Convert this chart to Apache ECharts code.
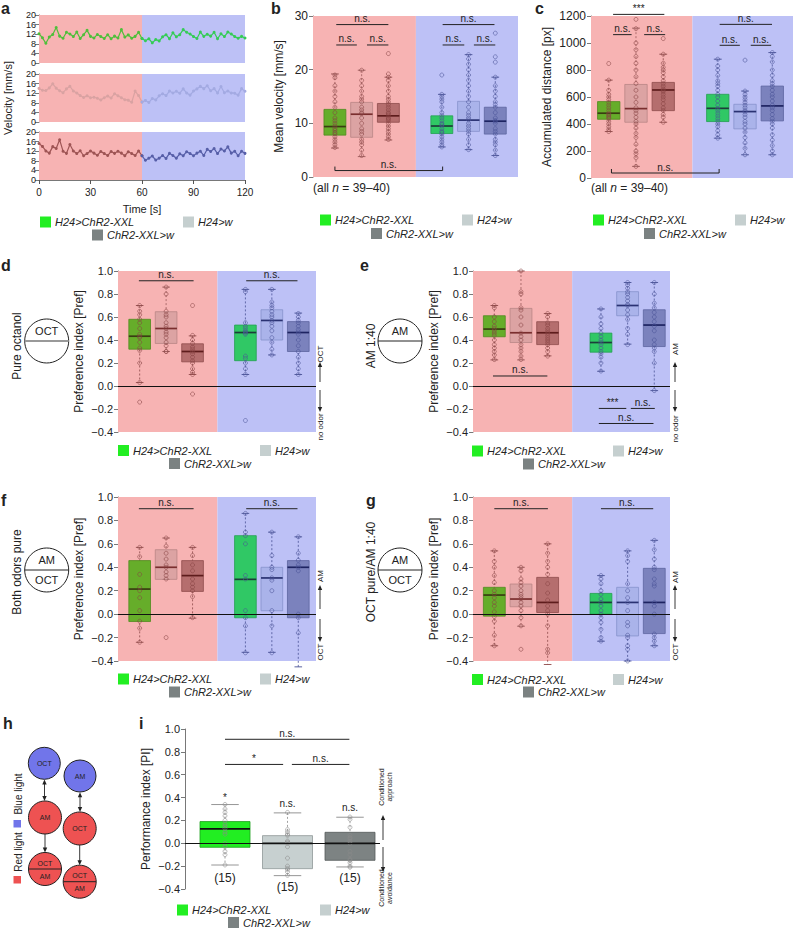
<!DOCTYPE html>
<html>
<head>
<meta charset="utf-8">
<script src="https://cdn.jsdelivr.net/npm/echarts@6/dist/echarts.min.js"></script>
<style>
html, body { margin: 0; padding: 0; background: #fff; }
#main { width: 794px; height: 928px; }
</style>
</head>
<body>
<div id="main"></div>
<script>
// panel a: mean velocity over time, one value every 2 s (0..120 s)
var timeStep = 2;
var timeTicks = [0, 30, 60, 90, 120];
var velH24ChR2 = [
    12.2, 10.5, 8.2, 10.8, 11.9, 14.8, 11.2, 10.3, 12.8, 12.1,
    11.0, 12.9, 10.2, 11.8, 13.6, 11.1, 10.4, 11.9, 11.0, 10.2,
    11.8, 10.1, 11.2, 10.4, 13.9, 10.8, 11.7, 10.3, 11.1, 12.8,
    10.2, 9.3, 10.1, 8.4, 9.8, 9.2, 10.9, 11.8, 10.1, 12.6,
    10.9, 11.8, 13.9, 12.8, 12.1, 11.0, 10.2, 12.9, 11.1, 12.0,
    11.2, 12.8, 10.1, 12.2, 11.0, 12.9, 12.1, 11.0, 10.3, 11.1,
    10.4
];
var velH24w = [
    14.0, 13.2, 13.1, 14.2, 15.9, 14.1, 13.0, 12.2, 13.8, 14.9,
    12.9, 12.1, 11.0, 10.2, 10.9, 10.1, 10.3, 9.9, 9.2, 10.1,
    10.8, 10.0, 11.8, 10.9, 10.1, 9.3, 9.1, 8.2, 12.9, 11.0,
    8.3, 9.0, 8.1, 9.8, 9.2, 10.9, 11.8, 11.0, 12.9, 12.1,
    12.8, 12.0, 13.8, 12.1, 11.2, 12.9, 13.8, 14.9, 13.9, 15.1,
    13.0, 13.9, 12.1, 14.8, 12.2, 12.9, 12.1, 12.0, 11.2, 13.9,
    12.8
];
var velChR2w = [
    15.2, 14.0, 12.1, 11.2, 13.9, 13.1, 16.8, 12.0, 11.1, 14.8,
    12.1, 11.0, 12.2, 10.1, 11.0, 12.1, 11.2, 10.3, 11.9, 11.0,
    10.2, 11.9, 11.1, 12.0, 11.2, 10.1, 11.8, 11.0, 10.2, 12.1,
    10.1, 8.2, 9.1, 10.0, 8.3, 9.1, 10.2, 9.0, 11.1, 10.2,
    9.1, 10.9, 10.1, 11.8, 11.0, 10.1, 11.2, 12.0, 10.2, 12.8,
    11.9, 13.1, 11.0, 12.9, 12.1, 13.8, 11.2, 12.0, 10.1, 12.0,
    11.1
];

// groups in plotting order: red light (1-3), blue light (5-7)
var groupNames = ['H24>ChR2-XXL', 'H24>w', 'ChR2-XXL>w'];
var boxPos = [1, 2, 3, 5, 6, 7];

// box statistics: [min, q1, median, q3, max]
var statsB = [[5.4, 7.8, 9.4, 12.6, 19.2], [3.8, 7.4, 11.7, 13.9, 19.9], [6.9, 10.2, 11.4, 13.7, 18.6],
              [5.6, 8.1, 9.5, 11.4, 15.4], [5.1, 8.5, 10.6, 14.1, 22.8], [4.0, 8.0, 10.4, 13.0, 18.6]];
var statsC = [[344, 435, 480, 566, 725], [86, 413, 514, 693, 1110], [413, 499, 652, 708, 917],
              [295, 418, 516, 620, 880], [172, 364, 492, 546, 644], [172, 423, 534, 681, 929]];
var statsD = [[0.03, 0.32, 0.433, 0.58, 0.70], [0.30, 0.37, 0.50, 0.646, 0.86], [0.10, 0.21, 0.30, 0.367, 0.436],
              [0.10, 0.22, 0.465, 0.53, 0.84], [0.27, 0.40, 0.57, 0.663, 0.84], [0.10, 0.30, 0.465, 0.56, 0.634]];
var statsE = [[0.227, 0.428, 0.495, 0.611, 0.70], [0.227, 0.378, 0.463, 0.675, 1.0], [0.262, 0.36, 0.463, 0.559, 0.63],
              [0.128, 0.294, 0.378, 0.46, 0.67], [0.364, 0.611, 0.70, 0.82, 0.90], [-0.04, 0.343, 0.53, 0.663, 0.90]];
var statsF = [[-0.24, -0.063, 0.214, 0.457, 0.57], [0.297, 0.297, 0.40, 0.55, 0.65], [-0.034, 0.194, 0.329, 0.457, 0.57],
              [-0.326, -0.031, 0.297, 0.67, 0.86], [-0.326, 0.029, 0.309, 0.40, 0.70], [-0.45, -0.031, 0.40, 0.457, 0.66]];
var statsG = [[-0.27, -0.017, 0.163, 0.229, 0.54], [-0.103, 0.063, 0.129, 0.257, 0.40], [-0.43, 0.014, 0.10, 0.314, 0.60],
              [-0.231, 0.0, 0.10, 0.177, 0.329], [-0.40, -0.186, 0.10, 0.229, 0.54], [-0.27, -0.166, 0.10, 0.391, 0.63]];
var statsI = [[-0.19, -0.035, 0.126, 0.19, 0.339], [-0.283, -0.222, 0.0, 0.067, 0.266], [-0.207, -0.149, 0.0, 0.096, 0.228]];

// individual animals
var dotsB = [
    [19, 18.5, 17, 16, 15, 14, 13, 12, 11, 10.5, 10, 9.5, 9, 8.7, 8.3, 8, 7.5, 7, 6.5, 6, 5.5],
    [19.9, 18, 17, 16, 15, 14.5, 14, 13, 12.5, 12, 11.8, 11, 10, 9, 8.5, 8, 7, 6.5, 6, 5, 4],
    [23, 19.2, 18.6, 18, 17, 16, 15, 14.5, 14, 13.5, 13, 12.5, 12, 11.8, 11.5, 11, 10.8, 10.5, 10, 9.5, 9, 8.5, 8, 7.5, 7],
    [19, 15.4, 15, 14.5, 14, 13, 12, 11.5, 11, 10.5, 10, 9.8, 9.5, 9, 8.5, 8.3, 8, 7.5, 7, 6.5, 6, 5.6],
    [22.8, 22, 21, 20, 19, 18, 17, 16, 15, 14, 13, 12, 11.5, 11, 10.6, 10, 9.5, 9, 8.5, 8, 7, 6, 5.1],
    [26.8, 22.4, 21.4, 18.6, 17, 16, 15, 14, 13.5, 13, 12, 11, 10.5, 10.4, 10, 9, 8.5, 8, 7, 6.5, 6, 5, 4]
];
var dotsC = [
    [848, 725, 650, 620, 600, 580, 560, 540, 520, 500, 480, 470, 460, 450, 440, 420, 400, 380, 360, 344],
    [1175, 1106, 1000, 950, 900, 850, 800, 750, 700, 650, 600, 560, 520, 500, 480, 450, 420, 400, 370, 330, 300, 250, 200, 180, 150, 86],
    [1033, 917, 850, 820, 800, 780, 750, 720, 700, 680, 660, 650, 640, 620, 600, 580, 550, 520, 500, 470, 450, 413],
    [880, 830, 800, 760, 720, 700, 680, 650, 620, 600, 570, 540, 516, 500, 480, 460, 440, 420, 400, 380, 350, 320, 295],
    [873, 644, 620, 600, 580, 560, 540, 520, 500, 490, 470, 450, 420, 400, 370, 340, 300, 260, 220, 172],
    [929, 900, 860, 800, 760, 720, 700, 680, 650, 620, 600, 570, 540, 520, 500, 470, 440, 420, 400, 370, 320, 280, 240, 200, 172]
];
var dotsD = [
    [0.70, 0.65, 0.62, 0.58, 0.55, 0.50, 0.45, 0.43, 0.42, 0.38, 0.33, 0.31, 0.20, 0.03, -0.14],
    [0.86, 0.80, 0.65, 0.62, 0.60, 0.55, 0.52, 0.50, 0.47, 0.45, 0.42, 0.38, 0.35, 0.30, 0.30],
    [0.70, 0.44, 0.40, 0.37, 0.34, 0.32, 0.30, 0.28, 0.25, 0.22, 0.20, 0.15, 0.12, 0.10, -0.07],
    [0.84, 0.82, 0.55, 0.52, 0.50, 0.48, 0.47, 0.46, 0.45, 0.26, 0.24, 0.20, 0.15, 0.10, -0.30],
    [0.84, 0.73, 0.70, 0.68, 0.65, 0.62, 0.60, 0.57, 0.55, 0.52, 0.48, 0.42, 0.38, 0.32, 0.27],
    [0.63, 0.60, 0.57, 0.55, 0.52, 0.49, 0.47, 0.45, 0.40, 0.35, 0.30, 0.25, 0.20, 0.15, 0.10]
];
var dotsE = [
    [0.70, 0.68, 0.60, 0.56, 0.52, 0.50, 0.48, 0.46, 0.44, 0.40, 0.36, 0.33, 0.30, 0.27, 0.23],
    [1.00, 0.82, 0.80, 0.68, 0.66, 0.60, 0.53, 0.46, 0.43, 0.40, 0.36, 0.33, 0.30, 0.26, 0.23],
    [0.63, 0.60, 0.55, 0.53, 0.50, 0.48, 0.46, 0.44, 0.42, 0.40, 0.38, 0.36, 0.33, 0.30, 0.26],
    [0.67, 0.60, 0.54, 0.50, 0.46, 0.43, 0.40, 0.38, 0.36, 0.33, 0.30, 0.28, 0.25, 0.20, 0.13],
    [0.90, 0.88, 0.85, 0.82, 0.80, 0.77, 0.74, 0.71, 0.70, 0.66, 0.62, 0.58, 0.50, 0.45, 0.36],
    [0.90, 0.80, 0.72, 0.68, 0.64, 0.60, 0.56, 0.52, 0.48, 0.40, 0.36, 0.33, 0.30, 0.20, -0.04]
];
var dotsF = [
    [0.57, 0.49, 0.34, 0.23, 0.20, 0.14, 0.03, -0.06, -0.12, -0.24],
    [0.65, 0.58, 0.52, 0.47, 0.42, 0.40, 0.36, 0.33, 0.30, -0.20],
    [0.57, 0.50, 0.42, 0.37, 0.30, 0.26, 0.23, 0.20, 0.15, -0.03],
    [0.86, 0.70, 0.67, 0.60, 0.33, 0.30, 0.03, -0.03, -0.10, -0.33],
    [0.70, 0.50, 0.40, 0.38, 0.31, 0.29, 0.20, 0.03, -0.10, -0.33],
    [0.66, 0.52, 0.46, 0.42, 0.40, 0.37, 0.00, -0.03, -0.16, -0.45]
];
var dotsG = [
    [0.54, 0.45, 0.40, 0.33, 0.27, 0.20, 0.17, 0.14, 0.10, 0.07, 0.02, -0.02, -0.06, -0.18, -0.27],
    [0.40, 0.37, 0.30, 0.27, 0.24, 0.20, 0.17, 0.15, 0.13, 0.10, 0.07, 0.03, -0.03, -0.10, -0.30],
    [0.60, 0.52, 0.45, 0.40, 0.34, 0.26, 0.18, 0.12, 0.07, 0.03, 0.00, -0.10, -0.30, -0.33, -0.43],
    [0.33, 0.30, 0.26, 0.20, 0.17, 0.13, 0.10, 0.07, 0.03, 0.00, -0.03, -0.07, -0.13, -0.20, -0.23],
    [0.54, 0.50, 0.45, 0.26, 0.20, 0.14, 0.10, 0.03, -0.07, -0.10, -0.18, -0.20, -0.27, -0.30, -0.40],
    [0.63, 0.55, 0.47, 0.40, 0.38, 0.30, 0.26, 0.24, 0.10, 0.07, 0.00, -0.17, -0.20, -0.23, -0.27]
];
var dotsI = [
    [0.34, 0.30, 0.27, 0.24, 0.20, 0.17, 0.15, 0.13, 0.10, 0.08, 0.00, -0.03, -0.07, -0.10, -0.19],
    [0.27, 0.12, 0.10, 0.08, 0.07, 0.02, 0.01, 0.00, -0.03, -0.13, -0.20, -0.22, -0.23, -0.25, -0.28],
    [0.23, 0.21, 0.14, 0.07, 0.05, 0.04, 0.02, 0.00, -0.07, -0.10, -0.14, -0.15, -0.17, -0.20, -0.21]
];

// significance bars: [from, to, y, text, bracket]
var sigB = [[1.05, 3, 28.4, 'n.s.'], [1.05, 1.82, 24.6, 'n.s.'], [2.2, 3, 24.6, 'n.s.'],
            [5.03, 6.97, 28.4, 'n.s.'], [5.03, 5.84, 24.6, 'n.s.'], [6.2, 7, 24.6, 'n.s.'], [1, 5.03, 1.2, 'n.s.', 1]];
var sigC = [[1.16, 3.04, 1212, '***'], [1.16, 1.84, 1062, 'n.s.'], [2.3, 3.07, 1062, 'n.s.'],
            [5.07, 6.99, 1138, 'n.s.'], [5.07, 5.81, 983, 'n.s.'], [6.21, 6.96, 983, 'n.s.'], [1.1, 5.05, 37, 'n.s.', 1]];
var sigD = [[0.97, 3.04, 0.915, 'n.s.'], [5.03, 6.97, 0.915, 'n.s.']];
var sigE = [[0.95, 2.99, 0.087, 'n.s.'], [4.92, 5.95, -0.195, '***'], [6.12, 7.02, -0.195, 'n.s.'], [4.92, 6.97, -0.326, 'n.s.']];
var sigF = [[0.97, 3.04, 0.9, 'n.s.'], [5.03, 6.97, 0.9, 'n.s.']];
var sigG = [[1.0, 3.01, 0.9, 'n.s.'], [5.0, 6.96, 0.9, 'n.s.']];
var sigI = [[1.0, 2.99, 0.91, 'n.s.'], [1.0, 1.93, 0.69, '*'], [2.07, 2.99, 0.69, 'n.s.']];
// per-box labels in panel i: [x, y, text]
var labelsI = [[1, 0.40, '*'], [2, 0.345, 'n.s.'], [3, 0.315, 'n.s.'],
               [1, -0.307, '(15)'], [2, -0.385, '(15)'], [3, -0.307, '(15)']];

var FONT = '"Liberation Sans", Arial, Helvetica, sans-serif';
var BG_RED = '#f7b3b3', BG_BLUE = '#bdc1f6';
var SWATCH = ['#22ee22', '#c5cfcf', '#7b8282'];

var PAL_RED = [
    {fill: '#66ad2a', stroke: '#4f8a1e', median: '#3a3d12', whisker: '#8e4a4a', dot: '#864242'},
    {fill: '#dca3a3', stroke: '#b98585', median: '#7a2e2e', whisker: '#9a5a5a', dot: '#8e4a4a'},
    {fill: '#b56e6e', stroke: '#8f4d4d', median: '#5e1c1c', whisker: '#8e4a4a', dot: '#864242'}
];
var PAL_BLUE = [
    {fill: '#30c865', stroke: '#23a050', median: '#1c3d3a', whisker: '#4a5296', dot: '#434b90'},
    {fill: '#aab3ea', stroke: '#8792cc', median: '#2a3272', whisker: '#4a5296', dot: '#4a5296'},
    {fill: '#7b82bd', stroke: '#5d64a0', median: '#1e2462', whisker: '#4a5296', dot: '#434b90'}
];
var PAL_BOX = PAL_RED.concat(PAL_BLUE);
var PAL_I = [
    {fill: '#22ee22', stroke: '#1b9e1b', median: '#111111', whisker: '#8a8a8a', dot: '#888888'},
    {fill: '#c7d0d0', stroke: '#8f9898', median: '#111111', whisker: '#8a8a8a', dot: '#888888'},
    {fill: '#7d8383', stroke: '#555b5b', median: '#111111', whisker: '#8a8a8a', dot: '#777777'}
];

var grids = [], xAxes = [], yAxes = [], series = [], graphics = [];

function fmtPref(v) {
    return (v < -1e-9 ? '\u2212' : '') + Math.abs(v).toFixed(1);
}
function fmtPlain(v) {
    return String(v);
}

function addGrid(rect, xOpt, yOpt) {
    var gi = grids.length;
    grids.push({left: rect[0], top: rect[1], width: rect[2], height: rect[3], containLabel: false});
    var xa = {gridIndex: gi, type: 'value', show: false, splitLine: {show: false}};
    var ya = {
        gridIndex: gi, type: 'value', splitLine: {show: false},
        axisLine: {show: true, onZero: false, lineStyle: {color: '#555', width: 0.8}},
        axisTick: {show: true, length: 4, lineStyle: {color: '#555', width: 0.8}},
        axisLabel: {color: '#222', fontSize: 11, fontFamily: FONT, margin: 5},
        nameLocation: 'middle', nameRotate: 90,
        nameTextStyle: {color: '#222', fontSize: 12, fontFamily: FONT}
    };
    for (var k in xOpt) xa[k] = xOpt[k];
    for (var j in yOpt) ya[j] = yOpt[j];
    xAxes.push(xa);
    yAxes.push(ya);
    return gi;
}

function bgArea(x0, xb, x1) {
    return {
        silent: true, label: {show: false},
        data: [
            [{xAxis: x0, itemStyle: {color: BG_RED, opacity: 1}}, {xAxis: xb}],
            [{xAxis: xb, itemStyle: {color: BG_BLUE, opacity: 1}}, {xAxis: x1}]
        ]
    };
}

var zeroLine = {
    silent: true, symbol: ['none', 'none'], label: {show: false},
    lineStyle: {color: '#111', width: 1.2, type: 'solid'},
    data: [{yAxis: 0}]
};

function boxSeries(gi, stats, pos, pals, boxW, capW) {
    var data = stats.map(function (s, k) { return [pos[k]].concat(s); });
    return {
        type: 'custom', xAxisIndex: gi, yAxisIndex: gi, z: 3, silent: true,
        data: data, encode: {x: 0, y: [1, 2, 3, 4, 5]},
        renderItem: function (params, api) {
            var p = pals[params.dataIndex];
            var x = api.value(0);
            var cx = api.coord([x, api.value(3)])[0];
            var w = api.size([boxW, 0])[0];
            var Y = function (d) { return api.coord([x, api.value(d)])[1]; };
            var lo = Y(1), q1 = Y(2), md = Y(3), q3 = Y(4), hi = Y(5);
            var cw = w * capW / 2;
            var dash = {stroke: p.whisker, lineWidth: 0.8, lineDash: [2, 2]};
            var cap = {stroke: p.whisker, lineWidth: 0.9};
            return {type: 'group', children: [
                {type: 'line', shape: {x1: cx, y1: hi, x2: cx, y2: lo}, style: dash},
                {type: 'line', shape: {x1: cx - cw, y1: hi, x2: cx + cw, y2: hi}, style: cap},
                {type: 'line', shape: {x1: cx - cw, y1: lo, x2: cx + cw, y2: lo}, style: cap},
                {type: 'rect', shape: {x: cx - w / 2, y: q3, width: w, height: q1 - q3},
                    style: {fill: p.fill, stroke: p.stroke, lineWidth: 0.8}},
                {type: 'line', shape: {x1: cx - w / 2, y1: md, x2: cx + w / 2, y2: md},
                    style: {stroke: p.median, lineWidth: 1.7}}
            ]};
        }
    };
}

function dotSeries(gi, dots, pos, idxs, color, extra) {
    var data = [];
    idxs.forEach(function (k) {
        dots[k].forEach(function (v) { data.push([pos[k], v]); });
    });
    var s = {
        type: 'scatter', xAxisIndex: gi, yAxisIndex: gi, z: 4, silent: true,
        data: data, symbol: 'circle', symbolSize: 4,
        itemStyle: {color: 'rgba(0,0,0,0)', borderColor: color, borderWidth: 0.7, opacity: 0.8}
    };
    for (var k in extra) s[k] = extra[k];
    return s;
}

function sigSeries(gi, sigs) {
    return {
        type: 'custom', xAxisIndex: gi, yAxisIndex: gi, z: 6, silent: true,
        data: sigs.map(function (s) { return [s[0], s[1], s[2]]; }),
        encode: {x: [0, 1], y: 2},
        renderItem: function (params, api) {
            var s = sigs[params.dataIndex];
            var a = api.coord([api.value(0), api.value(2)]);
            var b = api.coord([api.value(1), api.value(2)]);
            var ch = [{type: 'line', shape: {x1: a[0], y1: a[1], x2: b[0], y2: b[1]},
                style: {stroke: '#222', lineWidth: 1}}];
            if (s[4]) {
                ch.push({type: 'line', shape: {x1: a[0], y1: a[1], x2: a[0], y2: a[1] - 4}, style: {stroke: '#222', lineWidth: 1}});
                ch.push({type: 'line', shape: {x1: b[0], y1: b[1], x2: b[0], y2: b[1] - 4}, style: {stroke: '#222', lineWidth: 1}});
            }
            ch.push({type: 'text', x: (a[0] + b[0]) / 2, y: a[1] - 1,
                style: {text: s[3], fill: '#222', font: '10px ' + FONT, align: 'center', verticalAlign: 'bottom'}});
            return {type: 'group', children: ch};
        }
    };
}

function labelSeries(gi, labels) {
    return {
        type: 'custom', xAxisIndex: gi, yAxisIndex: gi, z: 6, silent: true,
        data: labels.map(function (l) { return [l[0], l[1]]; }),
        encode: {x: 0, y: 1},
        renderItem: function (params, api) {
            var c = api.coord([api.value(0), api.value(1)]);
            var t = labels[params.dataIndex][2];
            return {type: 'text', x: c[0], y: c[1],
                style: {text: t, fill: '#222', font: (t === '(15)' ? '12px ' : '10px ') + FONT,
                    align: 'center', verticalAlign: 'middle'}};
        }
    };
}

// ---------- graphic helpers ----------
function text(x, y, str, size, opts) {
    var o = {
        type: 'text', x: x, y: y, silent: true,
        style: {text: str, fill: '#222', font: (opts && opts.font ? opts.font + ' ' : '') + size + 'px ' + FONT,
            align: (opts && opts.align) || 'left', verticalAlign: (opts && opts.valign) || 'middle'}
    };
    if (opts && opts.rot) o.rotation = opts.rot;
    if (opts && opts.rich) o.style.rich = opts.rich;
    if (opts && opts.lineHeight) o.style.lineHeight = opts.lineHeight;
    graphics.push(o);
}
function vtext(x, y, str, size, opts) {
    opts = opts || {};
    opts.rot = Math.PI / 2;
    opts.align = 'center';
    text(x, y, str, size, opts);
}
function panelLabel(x, y, ch) {
    text(x, y, ch, 16, {font: 'bold', valign: 'bottom'});
}
function swatch(x, yc, color, label) {
    graphics.push({type: 'rect', silent: true, shape: {x: x, y: yc - 5.5, width: 11, height: 11}, style: {fill: color}});
    text(x + 15, yc, label, 11, {font: 'italic'});
}
function legend(gx, lx, dx, y1, y2) {
    swatch(gx, y1, SWATCH[0], groupNames[0]);
    swatch(lx, y1, SWATCH[1], groupNames[1]);
    swatch(dx, y2, SWATCH[2], groupNames[2]);
}
function arrow(x, y1, y2) {
    var d = y2 > y1 ? 1 : -1;
    graphics.push({type: 'line', silent: true, shape: {x1: x, y1: y1, x2: x, y2: y2 - d * 3}, style: {stroke: '#222', lineWidth: 0.9}});
    graphics.push({type: 'polygon', silent: true, shape: {points: [[x - 2.2, y2 - d * 5], [x + 2.2, y2 - d * 5], [x, y2]]}, style: {fill: '#222'}});
}
function sideArrows(x, topLbl, botLbl, tc, up1, up2, dn1, dn2, bc) {
    vtext(x, tc, topLbl, 8);
    arrow(x, up1, up2);
    arrow(x, dn1, dn2);
    vtext(x, bc, botLbl, 8);
}
function odorCircle(cx, cy, top, bottom, grayLine) {
    graphics.push({type: 'circle', silent: true, shape: {cx: cx, cy: cy, r: 22}, style: {fill: '#fff', stroke: '#222', lineWidth: 1}});
    graphics.push({type: 'line', silent: true, shape: {x1: cx - 22, y1: cy, x2: cx + 22, y2: cy},
        style: {stroke: grayLine ? '#999' : '#222', lineWidth: grayLine ? 2 : 1}});
    if (top) text(cx, cy - 10, top, 11, {align: 'center'});
    if (bottom) text(cx, cy + 10, bottom, 11, {align: 'center'});
}
function hCircle(cx, cy, r, fill, top, bottom) {
    graphics.push({type: 'circle', silent: true, shape: {cx: cx, cy: cy, r: r}, style: {fill: fill, stroke: '#222', lineWidth: 1}});
    if (bottom) {
        graphics.push({type: 'line', silent: true, shape: {x1: cx - r, y1: cy, x2: cx + r, y2: cy}, style: {stroke: '#222', lineWidth: 1}});
        text(cx, cy - 6, top, 7, {align: 'center'});
        text(cx, cy + 7, bottom, 7, {align: 'center'});
    } else {
        text(cx, cy, top, 7, {align: 'center'});
    }
}

// ---------- panel a ----------
var aRects = [[39, 15, 206, 48], [39, 74, 206, 48], [39, 132, 206, 48]];
var aVals = [velH24ChR2, velH24w, velChR2w];
var aColors = [['#4fbf3a', '#34cc55'], ['#d9a2a2', '#a3aae2'], ['#9e5454', '#575fa8']];
aRects.forEach(function (r, k) {
    var last = k === 2;
    var gi = addGrid(r,
        last ? {
            show: true, min: 0, max: 120, interval: 30,
            axisLine: {show: true, onZero: false, lineStyle: {color: '#555', width: 0.8}},
            axisTick: {show: true, length: 4, lineStyle: {color: '#555'}},
            axisLabel: {color: '#222', fontSize: 10, fontFamily: FONT, margin: 7}
        } : {min: 0, max: 120},
        {min: 0, max: 20, interval: 4, axisLabel: {color: '#222', fontSize: 9, fontFamily: FONT, margin: 3}});
    [[0, 60], [60, 120]].forEach(function (span, h) {
        var pts = [];
        aVals[k].forEach(function (v, n) {
            var t = n * timeStep;
            if (t >= span[0] && t <= span[1]) pts.push([t, v]);
        });
        var s = {
            type: 'line', xAxisIndex: gi, yAxisIndex: gi, data: pts, z: 3, silent: true,
            symbol: 'circle', symbolSize: 3, showSymbol: true,
            lineStyle: {width: 1.2, color: aColors[k][h]}, itemStyle: {color: aColors[k][h]}
        };
        if (h === 0) s.markArea = bgArea(timeTicks[0], 60, timeTicks[timeTicks.length - 1]);
        series.push(s);
    });
});
panelLabel(1, 16, 'a');
vtext(8, 98, 'Velocity [mm/s]', 11);
text(142, 209, 'Time [s]', 11, {align: 'center'});
legend(40, 183, 92, 222, 235);

// ---------- box panels b-g ----------
function boxPanel(cfg) {
    var gi = addGrid(cfg.rect, {min: cfg.xr[0], max: cfg.xr[1]}, {
        min: cfg.yr[0], max: cfg.yr[1], interval: cfg.yr[2],
        name: cfg.name, nameGap: cfg.nameGap,
        axisLabel: {color: '#222', fontSize: cfg.fs, fontFamily: FONT, margin: 5, formatter: cfg.fmt}
    });
    series.push(boxSeries(gi, cfg.stats, boxPos, PAL_BOX, 0.82, 0.35));
    var extra = {markArea: bgArea(cfg.xr[0], cfg.xr[2], cfg.xr[1])};
    if (cfg.zero) extra.markLine = zeroLine;
    series.push(dotSeries(gi, cfg.dots, boxPos, [0, 1, 2], PAL_RED[0].dot, extra));
    series.push(dotSeries(gi, cfg.dots, boxPos, [3, 4, 5], PAL_BLUE[1].dot, {}));
    series.push(sigSeries(gi, cfg.sig));
    return gi;
}
var prefAxisName = 'Preference index [Pref]';

boxPanel({rect: [313, 16, 205, 161], xr: [0.18, 7.85, 4.03], yr: [0, 30, 10], fs: 12, fmt: fmtPlain,
    name: 'Mean velocity [mm/s]', nameGap: 28, stats: statsB, dots: dotsB, sig: sigB});
boxPanel({rect: [591, 16, 202, 162], xr: [0.35, 7.76, 4.07], yr: [0, 1200, 200], fs: 12, fmt: fmtPlain,
    name: 'Accumulated distance [px]', nameGap: 38, stats: statsC, dots: dotsC, sig: sigC});
boxPanel({rect: [118, 271, 198, 161], xr: [0.18, 7.67, 3.94], yr: [-0.4, 1.0, 0.2], fs: 11, fmt: fmtPref,
    name: prefAxisName, nameGap: 33, stats: statsD, dots: dotsD, sig: sigD, zero: true});
boxPanel({rect: [473, 271, 197, 161], xr: [0.2, 7.59, 3.92], yr: [-0.4, 1.0, 0.2], fs: 11, fmt: fmtPref,
    name: prefAxisName, nameGap: 33, stats: statsE, dots: dotsE, sig: sigE, zero: true});
boxPanel({rect: [118, 497, 198, 164], xr: [0.18, 7.67, 3.94], yr: [-0.4, 1.0, 0.2], fs: 11, fmt: fmtPref,
    name: prefAxisName, nameGap: 33, stats: statsF, dots: dotsF, sig: sigF, zero: true});
boxPanel({rect: [473, 497, 197, 164], xr: [0.2, 7.59, 3.92], yr: [-0.4, 1.0, 0.2], fs: 11, fmt: fmtPref,
    name: prefAxisName, nameGap: 33, stats: statsG, dots: dotsG, sig: sigG, zero: true});

var italicRich = {i: {fontStyle: 'italic', fontSize: 12, fontFamily: FONT, fill: '#222'}};
panelLabel(271, 16, 'b');
text(313, 188, '(all {i|n} = 39\u201340)', 12, {rich: italicRich});
legend(320, 462, 371, 220, 233.5);

panelLabel(535, 16, 'c');
text(591, 188, '(all {i|n} = 39\u201340)', 12, {rich: italicRich});
legend(593, 735, 644, 220, 233.5);

panelLabel(1, 273, 'd');
odorCircle(46.7, 341, 'OCT', null, true);
vtext(17, 346, 'Pure octanol', 12);
text(121, 425, '(all {i|N} = 15)', 12, {rich: italicRich});
sideArrows(320, 'OCT', 'no odor', 354, 382, 362, 390, 412, 427);
legend(118, 260, 169, 450.5, 463.5);

panelLabel(360, 273, 'e');
odorCircle(400, 341, 'AM', null, false);
vtext(371, 346, 'AM 1:40', 12);
text(476, 423, '(all {i|N} = 15)', 12, {rich: italicRich});
sideArrows(675, 'AM', 'no odor', 349, 382, 362, 390, 412, 429);
legend(472, 613, 523, 451, 464);

panelLabel(1, 508, 'f');
odorCircle(46.7, 570, 'AM', 'OCT', false);
vtext(17, 572, 'Both odors pure', 12);
text(121, 654, '(all {i|N} = 10)', 12, {rich: italicRich});
sideArrows(320, 'AM', 'OCT', 576, 609, 585, 619, 642, 652);
legend(118, 260, 169, 679, 692);

panelLabel(366, 508, 'g');
odorCircle(400, 570, 'AM', 'OCT', false);
vtext(371, 572, 'OCT pure/AM 1:40', 12);
text(475, 654, '(all {i|N} = 15)', 12, {rich: italicRich});
sideArrows(675, 'AM', 'OCT', 577, 609, 585, 619, 642, 652);
legend(472, 613, 523, 679.5, 692);

// ---------- panel h ----------
panelLabel(3, 731, 'h');
var BLUE_C = '#7175ea', RED_C = '#ee5252';
hCircle(44.3, 763.3, 16, BLUE_C, 'OCT');
hCircle(80, 776, 16, BLUE_C, 'AM');
hCircle(45, 817.5, 16.5, RED_C, 'AM');
hCircle(79.7, 828.5, 16.5, RED_C, 'OCT');
hCircle(45, 869, 16.5, RED_C, 'OCT', 'AM');
hCircle(79.7, 881.7, 16.5, RED_C, 'OCT', 'AM');
arrow(44.5, 790, 779.5);
arrow(44.5, 790, 801);
arrow(80, 802, 792.2);
arrow(80, 802, 812);
arrow(45, 834, 852.5);
arrow(79.7, 845, 865.2);
vtext(18, 794, 'Blue light', 10);
graphics.push({type: 'rect', silent: true, shape: {x: 13.5, y: 820, width: 7.5, height: 7.5}, style: {fill: BLUE_C}});
vtext(18, 852, 'Red light', 10);
graphics.push({type: 'rect', silent: true, shape: {x: 13.5, y: 876, width: 7.5, height: 7.5}, style: {fill: RED_C}});

// ---------- panel i ----------
var gI = addGrid([185, 729, 195, 160], {min: 0.36, max: 3.48}, {
    min: -0.4, max: 1.0, interval: 0.2, name: 'Performance index [PI]', nameGap: 33,
    axisLabel: {color: '#222', fontSize: 11, fontFamily: FONT, margin: 5, formatter: fmtPref}
});
series.push(boxSeries(gI, statsI, [1, 2, 3], PAL_I, 0.8, 0.55));
series.push(dotSeries(gI, dotsI, [1, 2, 3], [0, 1, 2], '#8a8a8a', {markLine: zeroLine}));
series.push(sigSeries(gI, sigI));
series.push(labelSeries(gI, labelsI));
panelLabel(139, 731, 'i');
vtext(385, 787, 'Conditioned\napproach', 7, {lineHeight: 8});
arrow(383, 840, 815);
arrow(383, 847, 872);
vtext(385, 888, 'Conditioned\navoidance', 7, {lineHeight: 8});
legend(177, 320, 228, 910, 922.5);

var chart = echarts.init(document.getElementById('main'), null, {renderer: 'svg'});
chart.setOption({
    animation: false,
    backgroundColor: '#fff',
    textStyle: {fontFamily: FONT},
    grid: grids,
    xAxis: xAxes,
    yAxis: yAxes,
    series: series,
    graphic: {elements: graphics}
});
</script>
</body>
</html>
